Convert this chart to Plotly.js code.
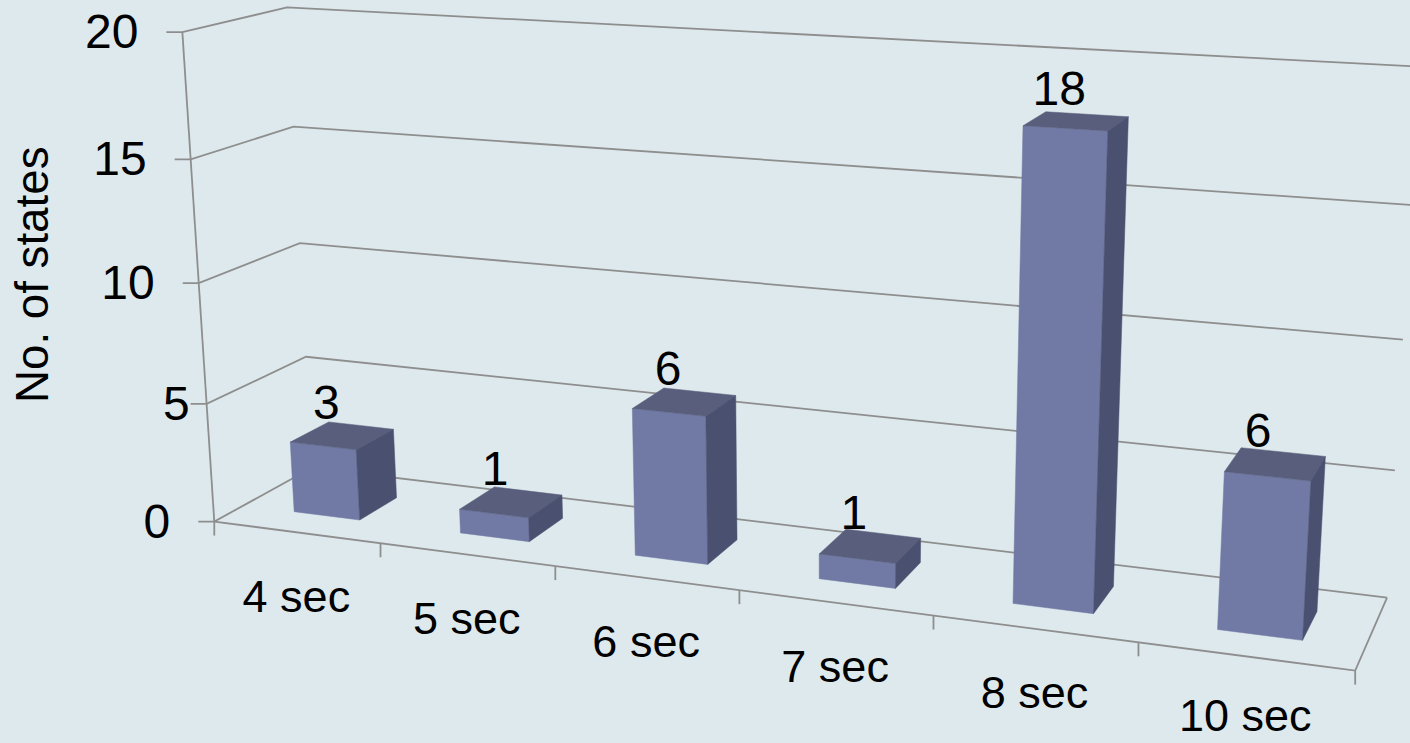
<!DOCTYPE html>
<html>
<head>
<meta charset="utf-8">
<script src="https://cdn.plot.ly/plotly-3.0.1.min.js"></script>
<style>html,body{margin:0;padding:0;background:#dee9ed;overflow:hidden}#chart{width:1410px;height:743px}</style>
</head>
<body>
<div id="chart"></div>
<script>
// Chart data
const categories = ['4 sec', '5 sec', '6 sec', '7 sec', '8 sec', '10 sec'];
const stateCounts = [3, 1, 6, 1, 18, 6];
const valueTicks = [0, 5, 10, 15, 20];
const valueTickLabels = ['0', '5', '10', '15', '20'];
const valueAxisTitle = 'No. of states';

// Style
const FONT = '"Liberation Sans", Arial, sans-serif';
const TEXT_SIZE = 45;
const DIGIT_SIZE = 48;
const BG = '#dee9ed';
const GRID = '#8e8e8e';
const FRONT = '#717aa5';
const TOP = '#585e7c';
const SIDE = '#4a5170';
const GAP = 0.3;          // gap on each side of a bar, as a share of its category cell
const BAR_NUDGE = 0.012;  // small sideways shift of the bars inside their cells
const DEPTH_NUDGE = -0.01;

// Box frame for the oblique view: [category, depth, value] -> canvas [x, y]
const frame = [
  [[0,0,0],[214,522]], [[0,0,5],[207,403]], [[0,0,10],[199,283]], [[0,0,15],[191,159]], [[0,0,20],[183,32]],
  [[0,1,0],[314,468]], [[0,1,5],[305,357]], [[0,1,10],[300,243]], [[0,1,15],[292,127]], [[0,1,20],[287,7]],
  [[1,0,0],[380,543.5]], [[2,0,0],[555,566.5]], [[3,0,0],[739,590.5]], [[4,0,0],[933,616]], [[5,0,0],[1138,642.5]], [[6,0,0],[1356,670]],
  [[6,1,0],[1387,597]], [[6,1,5],[1395,470]], [[6,1,10],[1403,339]], [[6,1,15],[1411,205]], [[6,1,20],[1420,68]]
];

// Least-squares fit of the 3x4 projective matrix for that frame
function fitProjection(pairs) {
  const n = 11, A = Array.from({length:n}, () => new Array(n + 1).fill(0));
  const add = (row, b) => {
    for (let i = 0; i < n; i++) {
      for (let j = 0; j < n; j++) A[i][j] += row[i] * row[j];
      A[i][n] += row[i] * b;
    }
  };
  pairs.forEach(([[c, d, v], [x, y]]) => {
    const X = c / 6, Y = d, Z = v / 20;
    add([X, Y, Z, 1, 0, 0, 0, 0, -x * X, -x * Y, -x * Z], x);
    add([0, 0, 0, 0, X, Y, Z, 1, -y * X, -y * Y, -y * Z], y);
  });
  for (let i = 0; i < n; i++) {
    let p = i;
    for (let r = i + 1; r < n; r++) if (Math.abs(A[r][i]) > Math.abs(A[p][i])) p = r;
    [A[i], A[p]] = [A[p], A[i]];
    for (let r = 0; r < n; r++) {
      if (r === i) continue;
      const f = A[r][i] / A[i][i];
      for (let k = i; k <= n; k++) A[r][k] -= f * A[i][k];
    }
  }
  return A.map((row, i) => row[n] / row[i]);
}
const P = fitProjection(frame);
function project(c, d, v) {
  const X = c / 6, Y = d, Z = v / 20;
  const w = P[8] * X + P[9] * Y + P[10] * Z + 1;
  return [(P[0] * X + P[1] * Y + P[2] * Z + P[3]) / w,
          (P[4] * X + P[5] * Y + P[6] * Z + P[7]) / w];
}

// Polyline collector: segments separated by nulls
function pathSet() {
  const xs = [], ys = [];
  return {
    xs, ys,
    add(points) {
      points.forEach(p => { xs.push(p[0]); ys.push(p[1]); });
      xs.push(null); ys.push(null);
    }
  };
}

const nCat = categories.length;
const zMax = valueTicks[valueTicks.length - 1];

// Walls, floor edges and tick marks
const grid = pathSet();
valueTicks.forEach(v => {
  const front = project(0, 0, v), back = project(0, 1, v), right = project(nCat, 1, v);
  grid.add([[front[0] - 16, front[1]], front, back, right]);
});
grid.add([project(0, 0, 0), project(0, 0, zMax)]);
grid.add([project(0, 0, 0), project(nCat, 0, 0), project(nCat, 1, 0)]);
for (let c = 0; c <= nCat; c++) {
  const p = project(c, 0, 0);
  grid.add([p, [p[0], p[1] + 14]]);
}

// Bar faces
const fronts = pathSet(), tops = pathSet(), sides = pathSet();
stateCounts.forEach((val, i) => {
  const l = i + GAP + BAR_NUDGE, r = i + 1 - GAP + BAR_NUDGE, n = GAP + DEPTH_NUDGE, f = 1 - GAP + DEPTH_NUDGE;
  fronts.add([project(l, n, 0), project(r, n, 0), project(r, n, val), project(l, n, val), project(l, n, 0)]);
  tops.add([project(l, n, val), project(r, n, val), project(r, f, val), project(l, f, val), project(l, n, val)]);
  sides.add([project(r, n, 0), project(r, f, 0), project(r, f, val), project(r, n, val), project(r, n, 0)]);
});
const face = (set, color, name) => ({
  type: 'scatter', mode: 'lines', name, x: set.xs, y: set.ys,
  fill: 'toself', fillcolor: color, line: {color, width: 0.5},
  hoverinfo: 'skip'
});

// Text offsets from the projected anchor
const valueLabelOffset = [-15, -28];
const categoryLabelDy = [68, 68, 68, 68, 68, 63];  // the last label stays clear of the page edge
const valueTickDx = [-44, -17, -44, -44, -44];
const valueTickDy = 4;

const valueText = {
  type: 'scatter', mode: 'text', name: 'Values',
  x: stateCounts.map((v, i) => project(i + 0.5, 0.5, v)[0] + valueLabelOffset[0]),
  y: stateCounts.map((v, i) => project(i + 0.5, 0.5, v)[1] + valueLabelOffset[1]),
  text: stateCounts.map(String), textposition: 'middle center',
  textfont: {family: FONT, size: DIGIT_SIZE, color: '#000'}, hoverinfo: 'skip'
};
const categoryText = {
  type: 'scatter', mode: 'text', name: 'Categories',
  x: categories.map((c, i) => project(i + 0.5, 0, 0)[0]),
  y: categories.map((c, i) => project(i + 0.5, 0, 0)[1] + categoryLabelDy[i]),
  text: categories, textposition: 'middle center',
  textfont: {family: FONT, size: TEXT_SIZE, color: '#000'}, hoverinfo: 'skip'
};
const tickText = {
  type: 'scatter', mode: 'text', name: 'Value ticks',
  x: valueTicks.map((v, i) => project(0, 0, v)[0] + valueTickDx[i]),
  y: valueTicks.map(v => project(0, 0, v)[1] + valueTickDy),
  text: valueTickLabels, textposition: 'middle left',
  textfont: {family: FONT, size: DIGIT_SIZE, color: '#000'}, hoverinfo: 'skip'
};

const traces = [
  {type: 'scatter', mode: 'lines', name: 'Grid', x: grid.xs, y: grid.ys,
   line: {color: GRID, width: 1.8}, hoverinfo: 'skip'},
  face(fronts, FRONT, 'Front'), face(tops, TOP, 'Top'), face(sides, SIDE, 'Side'),
  valueText, categoryText, tickText
];

// The axes run in canvas units so one unit is one pixel
const layout = {
  width: 1410, height: 743, margin: {l: 0, r: 0, t: 0, b: 0}, showlegend: false,
  paper_bgcolor: BG, plot_bgcolor: BG, font: {family: FONT, color: '#000'},
  xaxis: {range: [0, 1410], visible: false, fixedrange: true},
  yaxis: {range: [743, 0], visible: false, fixedrange: true},
  annotations: [{
    text: valueAxisTitle, xref: 'x', yref: 'y', x: 32, y: 275, textangle: -90,
    showarrow: false, font: {family: FONT, size: TEXT_SIZE + 0.7, color: '#000'}
  }]
};
Plotly.newPlot('chart', traces, layout, {displayModeBar: false, staticPlot: true});
</script>
</body>
</html>
